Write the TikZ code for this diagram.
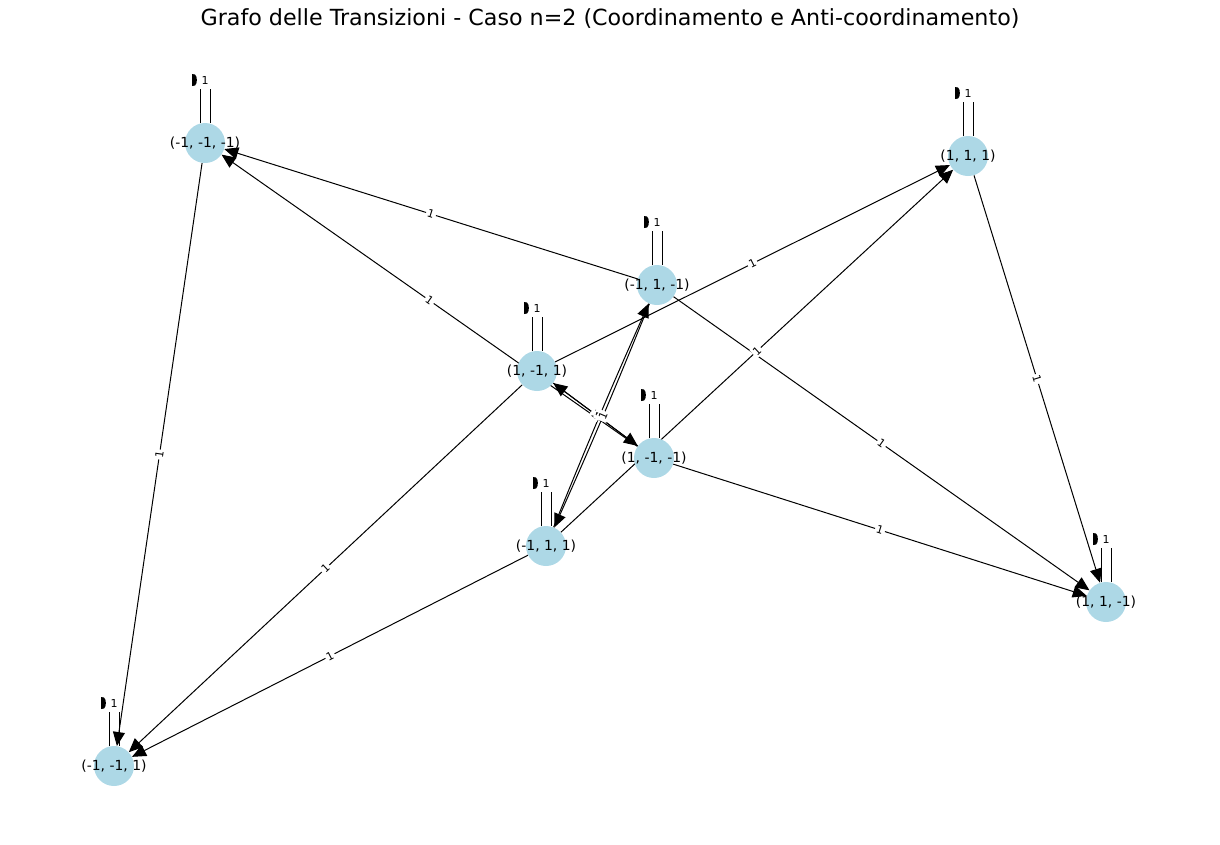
\documentclass[tikz,border=0pt]{standalone}
\usepackage{fontspec}
\setmainfont{DejaVu Sans}
\usetikzlibrary{arrows.meta}
\definecolor{nodeblue}{HTML}{ADD8E6}
\pgfdeclarelayer{edgelayer}
\pgfsetlayers{edgelayer,main}
\begin{document}
\begin{tikzpicture}[x=1pt,y=-1pt,
  st/.style={circle,fill=nodeblue,minimum size=40pt,inner sep=0pt,font=\fontsize{13.9}{16}\selectfont},
  edge/.style={line width=1pt,-{Triangle[length=14pt,width=12pt]}},
  elabel/.style={fill=white,inner sep=1.5pt,font=\fontsize{11}{12}\selectfont,sloped},
  loopline/.style={line width=0.9pt},
  llabel/.style={fill=white,inner sep=0pt,minimum width=14pt,minimum height=17pt,font=\fontsize{11}{12}\selectfont}]
\useasboundingbox (0,0) rectangle (1220,844);
\node (title) at (610,19) {\fontsize{22.2}{26}\selectfont Grafo delle Transizioni - Caso n=2 (Coordinamento e Anti-coordinamento)};
% states
\node[st] (mmm) at (205,143) {\makebox[0pt]{(-1, -1, -1)}};
\node[st] (ppp) at (968,156) {\makebox[0pt]{(1, 1, 1)}};
\node[st] (mpm) at (657,285) {\makebox[0pt]{(-1, 1, -1)}};
\node[st] (pmp) at (537,371) {\makebox[0pt]{(1, -1, 1)}};
\node[st] (pmm) at (654,458) {\makebox[0pt]{(1, -1, -1)}};
\node[st] (mpp) at (546,546) {\makebox[0pt]{(-1, 1, 1)}};
\node[st] (ppm) at (1106,602) {\makebox[0pt]{(1, 1, -1)}};
\node[st] (mmp) at (114,766) {\makebox[0pt]{(-1, -1, 1)}};
\begin{pgfonlayer}{edgelayer}
  \foreach \s/\t in {mpm/mmm, pmm/mmm, mmm/mmp, pmp/ppp, mpp/ppp, pmp/mmp, mpp/mmp, pmm/ppm, mpm/ppm, ppp/ppm, pmm/pmp, pmp/pmm}
    \draw[edge] (\s) -- (\t);
  \draw[edge] (mpp) to[bend left=1] (mpm);
  \draw[edge] (mpm) to[bend left=1] (mpp);
  \foreach \n in {mmm,ppp,mpm,pmp,pmm,mpp,ppm,mmp} {
    \draw[loopline] ([shift={(-5,-20)}]\n.center) -- ([shift={(-5,-62)}]\n.center) -- ([shift={(5,-62)}]\n.center) -- ([shift={(5,-20)}]\n.center);
    \fill ([shift={(-13,-69)}]\n.center) -- ([shift={(-10,-68.5)}]\n.center) .. controls ([shift={(-7.5,-67)}]\n.center) and ([shift={(-7.5,-59)}]\n.center) .. ([shift={(-10,-57.5)}]\n.center) -- ([shift={(-13,-57)}]\n.center) -- cycle;
  }
\end{pgfonlayer}
% edge labels
\foreach \s/\t [count=\i] in {mpm/mmm, pmm/mmm, mmm/mmp, pmp/ppp, mpp/ppp, pmp/mmp, mpp/mmp, pmm/ppm, mpm/ppm, ppp/ppm, pmm/pmp, pmp/pmm}
  \path (\s) -- node[elabel] (el\i) {1} (\t);
\path (mpp) to[bend left=1] node[elabel] (elx) {1} (mpm);
\path (mpm) to[bend left=1] node[elabel] (ely) {1} (mpp);
% self-loop labels
\foreach \n in {mmm,ppp,mpm,pmp,pmm,mpp,ppm,mmp}
  \node[llabel] (\n-l) at ([shift={(0,-63)}]\n.center) {1};
\end{tikzpicture}
\end{document}
